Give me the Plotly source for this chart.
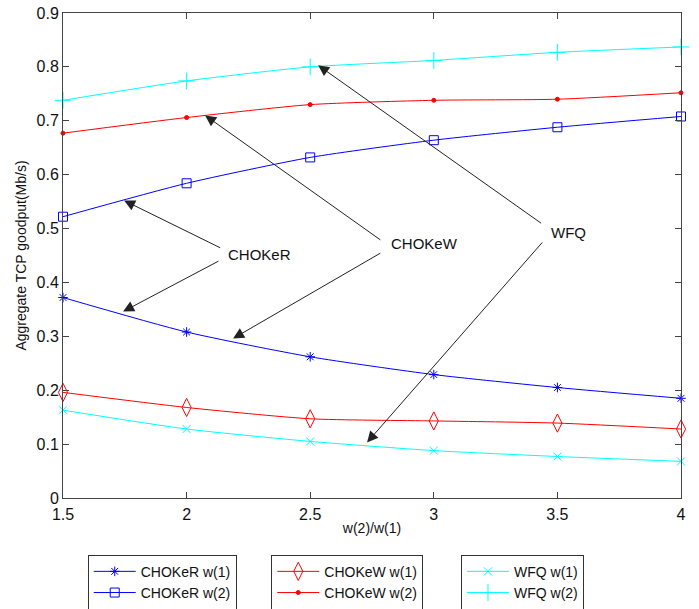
import plotly.graph_objects as go

x_vals = [1.5, 2.0, 2.5, 3.0, 3.5, 4.0]

chokerw1 = [0.372, 0.308, 0.262, 0.229, 0.205, 0.185]
chokerw2 = [0.522, 0.584, 0.632, 0.664, 0.688, 0.708]
chokeww1 = [0.196, 0.168, 0.147, 0.143, 0.139, 0.128]
chokeww2 = [0.677, 0.706, 0.730, 0.738, 0.740, 0.752]
wfqw1 = [0.163, 0.128, 0.105, 0.088, 0.077, 0.068]
wfqw2 = [0.738, 0.774, 0.800, 0.812, 0.827, 0.837]

x_ticks = [1.5, 2, 2.5, 3, 3.5, 4]
x_tick_text = ["1.5", "2", "2.5", "3", "3.5", "4"]
y_ticks = [0, 0.1, 0.2, 0.3, 0.4, 0.5, 0.6, 0.7, 0.8, 0.9]
y_tick_text = ["0", "0.1", "0.2", "0.3", "0.4", "0.5", "0.6", "0.7", "0.8", "0.9"]

# annotation labels and arrows (head x, head y, tail x, tail y)
labels = ["CHOKeR", "CHOKeW", "WFQ"]
label_x = [2.160, 2.817, 3.464]
label_y = [0.452, 0.4725, 0.4935]
arrow_head_x = [1.747, 1.743, 2.075, 2.188, 2.532, 2.730]
arrow_head_y = [0.552, 0.346, 0.710, 0.296, 0.803, 0.103]
arrow_tail_x = [2.142, 2.135, 2.790, 2.790, 3.440, 3.444]
arrow_tail_y = [0.463, 0.441, 0.477, 0.456, 0.508, 0.477]

series = [
    ("CHOKeR w(1)", chokerw1, "blue", "asterisk-open", 8, "legend"),
    ("CHOKeR w(2)", chokerw2, "blue", "square-open", 9, "legend"),
    ("CHOKeW w(1)", chokeww1, "red", "diamond-tall-open", 13, "legend2"),
    ("CHOKeW w(2)", chokeww2, "red", "circle", 4, "legend2"),
    ("WFQ w(1)", wfqw1, "cyan", "x-thin-open", 8, "legend3"),
    ("WFQ w(2)", wfqw2, "cyan", "cross-thin-open", 12, "legend3"),
]

fig = go.Figure()
for name, yv, col, sym, size, lg in series:
    fig.add_trace(go.Scatter(
        x=x_vals, y=yv, name=name, mode="lines+markers",
        line=dict(color=col, width=1, shape="spline", smoothing=0.6),
        marker=dict(symbol=sym, size=size, color=col, line=dict(color=col, width=1)),
        legend=lg, cliponaxis=False,
    ))

for hx, hy, tx, ty in zip(arrow_head_x, arrow_head_y, arrow_tail_x, arrow_tail_y):
    fig.add_annotation(
        x=hx, y=hy, ax=tx, ay=ty, xref="x", yref="y", axref="x", ayref="y",
        text="", showarrow=True, arrowhead=2, arrowsize=2.2, arrowwidth=1,
        arrowcolor="#222222", standoff=0, startstandoff=0,
    )

for t, lx, ly in zip(labels, label_x, label_y):
    fig.add_annotation(
        x=lx, y=ly, xref="x", yref="y", text=t, showarrow=False,
        xanchor="left", yanchor="middle",
        font=dict(family="Liberation Sans, Arial", size=15, color="#111111"),
    )

legend_style = dict(
    bgcolor="white", bordercolor="#333333", borderwidth=1,
    font=dict(family="Liberation Sans, Arial", size=14, color="#111111"),
    yanchor="top", xanchor="left", tracegroupgap=0,
    itemwidth=42,
)

fig.update_layout(
    width=699, height=609,
    margin=dict(l=63, r=18, t=13, b=111, autoexpand=False),
    plot_bgcolor="white", paper_bgcolor="white",
    font=dict(family="Liberation Sans, Arial", size=14, color="#111111"),
    legend=dict(x=0.04, y=-0.117, **legend_style),
    legend2=dict(x=0.337, y=-0.117, **legend_style),
    legend3=dict(x=0.644, y=-0.117, **legend_style),
    xaxis=dict(
        range=[1.5, 4], tickvals=x_ticks, ticktext=x_tick_text,
        showgrid=False, zeroline=False, showline=True, linecolor="#444444",
        linewidth=1, mirror="ticks", ticks="inside", ticklen=6, tickcolor="#444444",
        title=dict(text="w(2)/w(1)", font=dict(size=14), standoff=0),
        tickfont=dict(size=16), ticklabelstandoff=2,
    ),
    yaxis=dict(
        range=[0, 0.9], tickvals=y_ticks, ticktext=y_tick_text,
        showgrid=False, zeroline=False, showline=True, linecolor="#444444",
        linewidth=1, mirror="ticks", ticks="inside", ticklen=6, tickcolor="#444444",
        title=dict(text="Aggregate TCP goodput(Mb/s)", font=dict(size=14), standoff=6),
        tickfont=dict(size=16),
    ),
)

fig.write_html(
    "out.html",
    config={"displayModeBar": False},
    post_script="document.body.style.margin='0';document.body.style.overflow='hidden';",
)
